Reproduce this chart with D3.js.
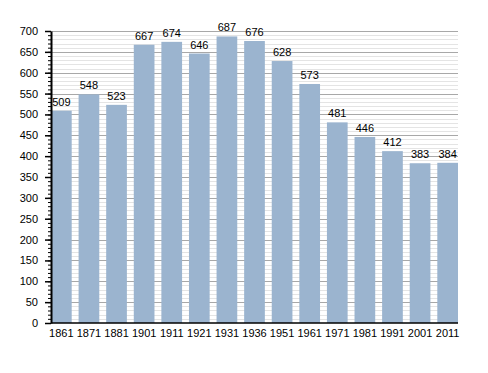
<!DOCTYPE html>
<html>
<head>
<meta charset="utf-8">
<script src="https://cdn.jsdelivr.net/npm/d3@7"></script>
<style>
  body { margin: 0; background: #fff; }
  text { font-family: "Liberation Sans", Arial, sans-serif; }
</style>
</head>
<body>
<div id="chart"></div>
<script>
'use strict'

const years = ['1861', '1871', '1881', '1901', '1911', '1921', '1931', '1936', '1951', '1961', '1971', '1981', '1991', '2001', '2011']
const population = [509, 548, 523, 667, 674, 646, 687, 676, 628, 573, 481, 446, 412, 383, 384]
const yTicks = [0, 50, 100, 150, 200, 250, 300, 350, 400, 450, 500, 550, 600, 650, 700]

const width = 488
const height = 373
const margin = { top: 31, right: 30, bottom: 50, left: 51 }

const svg = d3.select('#chart').append('svg')
  .attr('width', width)
  .attr('height', height)

const x = d3.scaleBand()
  .domain(years)
  .range([margin.left, width - margin.right])
  .paddingInner(0.25)
  .paddingOuter(0)

const y = d3.scaleLinear()
  .domain([0, 700])
  .range([height - margin.bottom, margin.top])

// minor grid lines every 10
const minor = d3.range(10, 701, 10).filter(v => v % 50 !== 0)
svg.append('g').selectAll('line')
  .data(minor)
  .join('line')
  .attr('x1', margin.left)
  .attr('x2', width - margin.right)
  .attr('y1', d => Math.round(y(d)) + 0.5)
  .attr('y2', d => Math.round(y(d)) + 0.5)
  .attr('stroke', '#e4e4e4')
  .attr('stroke-width', 1)

// major grid lines every 50
svg.append('g').selectAll('line')
  .data(yTicks.filter(v => v > 0))
  .join('line')
  .attr('x1', margin.left)
  .attr('x2', width - margin.right)
  .attr('y1', d => Math.round(y(d)) + 0.5)
  .attr('y2', d => Math.round(y(d)) + 0.5)
  .attr('stroke', '#a8a8a8')
  .attr('stroke-width', 1)

// bars
svg.append('g').selectAll('rect')
  .data(population)
  .join('rect')
  .attr('x', (d, i) => x(years[i]))
  .attr('y', d => y(d))
  .attr('width', x.bandwidth())
  .attr('height', d => y(0) - y(d))
  .attr('fill', '#9bb4cf')

// value labels
svg.append('g').selectAll('text')
  .data(population)
  .join('text')
  .attr('x', (d, i) => x(years[i]) + x.bandwidth() / 2)
  .attr('y', d => y(d) - 5)
  .attr('text-anchor', 'middle')
  .attr('font-size', 11)
  .attr('fill', '#000')
  .text(d => d)

// y axis with minor ticks
svg.append('g')
  .attr('transform', `translate(${margin.left},0)`)
  .call(d3.axisLeft(y).tickValues(d3.range(0, 701, 10)).tickSize(3).tickFormat(''))
  .call(g => g.select('.domain').remove())
  .call(g => g.selectAll('line').attr('stroke', '#000'))

const yAxis = svg.append('g')
  .attr('transform', `translate(${margin.left},0)`)
  .call(d3.axisLeft(y).tickValues(yTicks).tickSize(6).tickPadding(7).tickSizeOuter(0))
yAxis.select('.domain').attr('stroke', '#000').attr('stroke-width', 2)
yAxis.selectAll('line').attr('stroke', '#000').attr('stroke-width', 1.5)
yAxis.selectAll('text').attr('font-size', 11).attr('fill', '#000')
  .attr('font-family', '"Liberation Sans", Arial, sans-serif')

// x axis
const xAxis = svg.append('g')
  .attr('transform', `translate(0,${y(0)})`)
  .call(d3.axisBottom(x).tickSize(0).tickPadding(6))
xAxis.select('.domain').attr('stroke', '#000').attr('stroke-width', 1.5)
  .attr('d', `M${margin.left},0H${width - margin.right}`)
xAxis.selectAll('text').attr('font-size', 11).attr('fill', '#000')
  .attr('font-family', '"Liberation Sans", Arial, sans-serif')
</script>
</body>
</html>
